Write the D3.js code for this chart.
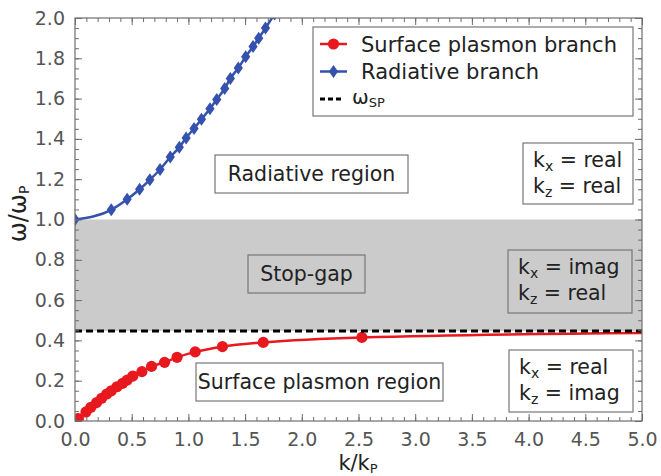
<!DOCTYPE html>
<html>
<head>
<meta charset="utf-8">
<script src="https://cdn.jsdelivr.net/npm/d3@7"></script>
<style>
  body { margin: 0; background: #fff; }
  text { font-family: "DejaVu Sans", sans-serif; }
</style>
</head>
<body>
<div id="chart"></div>
<script>
// surface plasmon branch (k/kP, w/wP)
var spK = [0.03, 0.097, 0.14, 0.19, 0.235, 0.28, 0.32, 0.37, 0.42, 0.46, 0.51, 0.59, 0.675, 0.79, 0.90, 1.06, 1.30, 1.66, 2.53, 5.6];
var spW = [0.012, 0.045, 0.068, 0.091, 0.113, 0.134, 0.150, 0.170, 0.187, 0.203, 0.223, 0.245, 0.271, 0.291, 0.316, 0.343, 0.369, 0.390, 0.415, 0.440];

// radiative branch
var radK = [0.0, 0.32, 0.46, 0.57, 0.66, 0.75, 0.84, 0.92, 0.98, 1.05, 1.115, 1.19, 1.25, 1.32, 1.37, 1.44, 1.505, 1.57, 1.62, 1.68, 1.76];
var radW = [1.0, 1.048, 1.10, 1.15, 1.197, 1.248, 1.31, 1.358, 1.405, 1.452, 1.497, 1.55, 1.596, 1.65, 1.70, 1.752, 1.808, 1.858, 1.90, 1.95, 2.02];

var wSP = 0.447;          // dashed line
var gapBand = [0.447, 1.0]; // stop-gap shading

var xTicks = [0, 0.5, 1, 1.5, 2, 2.5, 3, 3.5, 4, 4.5, 5];
var yTicks = [0, 0.2, 0.4, 0.6, 0.8, 1.0, 1.2, 1.4, 1.6, 1.8, 2.0];

var w = 661, h = 476;
var pL = 75, pR = 642, pT = 18, pB = 421;

var red = '#e8191e', blue = '#3451ae', frame = '#6e6e6e', tickTxt = '#555';

var svg = d3.select('#chart').append('svg')
  .attr('width', w).attr('height', h);

var x = d3.scaleLinear().domain([0, 5]).range([pL, pR]);
var y = d3.scaleLinear().domain([0, 2]).range([pB, pT]);

svg.append('clipPath').attr('id', 'plotclip')
  .append('rect').attr('x', pL).attr('y', pT)
  .attr('width', pR - pL).attr('height', pB - pT);

var plot = svg.append('g').attr('clip-path', 'url(#plotclip)');

// stop-gap band
plot.append('rect')
  .attr('x', x(0)).attr('width', x(5) - x(0))
  .attr('y', y(gapBand[1])).attr('height', y(gapBand[0]) - y(gapBand[1]))
  .attr('fill', '#cbcbcb');

// text boxes
function box(x0, y0, x1, y1) {
  svg.append('rect')
    .attr('x', x0).attr('y', y0).attr('width', x1 - x0).attr('height', y1 - y0)
    .attr('fill', 'none').attr('stroke', '#777').attr('stroke-width', 1.2);
}
function label(txt, cx, cy) {
  svg.append('text').attr('x', cx).attr('y', cy)
    .attr('text-anchor', 'middle').attr('font-size', 20.5).attr('fill', '#222')
    .text(txt);
}
box(215, 155, 408, 193); label('Radiative region', 311.5, 181);
box(248, 255, 365, 293); label('Stop-gap', 306.5, 281);
box(196, 363, 443, 401); label('Surface plasmon region', 319.5, 389);

function kbox(x0, y0, x1, y1, a, b) {
  box(x0, y0, x1, y1);
  [['x', a], ['z', b]].forEach(function(d, i) {
    var t = svg.append('text').attr('x', x0 + 10).attr('y', y0 + 24 + i * 25.5)
      .attr('font-size', 20.5).attr('fill', '#222');
    t.append('tspan').text('k');
    t.append('tspan').attr('font-size', 14).attr('dy', 4).text(d[0]);
    t.append('tspan').attr('dy', -4).text(' = ' + d[1]);
  });
}
kbox(523, 143, 633, 204, 'real', 'real');
kbox(508, 250, 632, 313, 'imag', 'real');
kbox(509, 350, 633, 412, 'real', 'imag');

// curves
var spData = spK.map(function(k, i) { return [k, spW[i]]; });
var radData = radK.map(function(k, i) { return [k, radW[i]]; });

var line = d3.line()
  .x(function(d) { return x(d[0]); })
  .y(function(d) { return y(d[1]); })
  .curve(d3.curveMonotoneX);

plot.append('path').datum([[0, 0]].concat(spData)).attr('d', line)
  .attr('fill', 'none').attr('stroke', red).attr('stroke-width', 2.5);
plot.selectAll('.sp-dot').data(spData).enter().append('circle')
  .attr('cx', function(d) { return x(d[0]); })
  .attr('cy', function(d) { return y(d[1]); })
  .attr('r', 5.6).attr('fill', red);

plot.append('path').datum(radData).attr('d', line)
  .attr('fill', 'none').attr('stroke', blue).attr('stroke-width', 2.5);
var diamond = 'M0,-6.5L4.6,0L0,6.5L-4.6,0Z';
plot.selectAll('.rad-dot').data(radData).enter().append('path')
  .attr('d', diamond)
  .attr('transform', function(d) { return 'translate(' + x(d[0]) + ',' + y(d[1]) + ')'; })
  .attr('fill', blue);

// w_sp dashed line
plot.append('line')
  .attr('x1', x(0)).attr('x2', x(5)).attr('y1', y(wSP)).attr('y2', y(wSP))
  .attr('stroke', '#000').attr('stroke-width', 3).attr('stroke-dasharray', '7,4');

// axes: ticks inward on all four sides
var xMinor = d3.range(0, 5.001, 0.1);
var yMinor = d3.range(0, 2.001, 0.05);

function styleAxis(g) {
  g.select('.domain').remove();
  g.selectAll('line').attr('stroke', frame).attr('stroke-width', 1);
  g.selectAll('text').attr('fill', tickTxt).attr('font-size', 19)
    .attr('font-family', '"DejaVu Sans", sans-serif');
}

svg.append('g').attr('transform', 'translate(0,' + pB + ')')
  .call(d3.axisBottom(x).tickValues(xTicks).tickSize(-7).tickPadding(12).tickFormat(d3.format('.1f')))
  .call(styleAxis);
svg.append('g').attr('transform', 'translate(0,' + pB + ')')
  .call(d3.axisBottom(x).tickValues(xMinor).tickSize(-4).tickFormat(''))
  .call(styleAxis);
svg.append('g').attr('transform', 'translate(0,' + pT + ')')
  .call(d3.axisTop(x).tickValues(xTicks).tickSize(-7).tickFormat(''))
  .call(styleAxis);
svg.append('g').attr('transform', 'translate(0,' + pT + ')')
  .call(d3.axisTop(x).tickValues(xMinor).tickSize(-4).tickFormat(''))
  .call(styleAxis);

svg.append('g').attr('transform', 'translate(' + pL + ',0)')
  .call(d3.axisLeft(y).tickValues(yTicks).tickSize(-7).tickPadding(10).tickFormat(d3.format('.1f')))
  .call(styleAxis);
svg.append('g').attr('transform', 'translate(' + pL + ',0)')
  .call(d3.axisLeft(y).tickValues(yMinor).tickSize(-4).tickFormat(''))
  .call(styleAxis);
svg.append('g').attr('transform', 'translate(' + pR + ',0)')
  .call(d3.axisRight(y).tickValues(yTicks).tickSize(-7).tickFormat(''))
  .call(styleAxis);
svg.append('g').attr('transform', 'translate(' + pR + ',0)')
  .call(d3.axisRight(y).tickValues(yMinor).tickSize(-4).tickFormat(''))
  .call(styleAxis);

// frame
svg.append('rect')
  .attr('x', pL).attr('y', pT).attr('width', pR - pL).attr('height', pB - pT)
  .attr('fill', 'none').attr('stroke', frame).attr('stroke-width', 1.2);

// axis labels
var xl = svg.append('text').attr('x', 358).attr('y', 470)
  .attr('text-anchor', 'middle').attr('font-size', 21).attr('fill', '#222');
xl.append('tspan').text('k/k');
xl.append('tspan').attr('font-size', 13).attr('dy', 3).text('P');

var yl = svg.append('text')
  .attr('transform', 'translate(26,214) rotate(-90)')
  .attr('text-anchor', 'middle').attr('font-size', 24).attr('fill', '#222');
yl.append('tspan').text('ω/ω');
yl.append('tspan').attr('font-size', 14).attr('dy', 3).text('P');

// legend
var lg = svg.append('g');
lg.append('rect').attr('x', 313).attr('y', 27).attr('width', 320).attr('height', 89)
  .attr('fill', '#fff').attr('stroke', '#777').attr('stroke-width', 1.2);

lg.append('line').attr('x1', 320).attr('x2', 347).attr('y1', 44).attr('y2', 44)
  .attr('stroke', red).attr('stroke-width', 2.5);
lg.append('circle').attr('cx', 333.5).attr('cy', 44).attr('r', 5.6).attr('fill', red);
lg.append('text').attr('x', 361).attr('y', 51.5).attr('font-size', 21).attr('fill', '#222')
  .text('Surface plasmon branch');

lg.append('line').attr('x1', 320).attr('x2', 347).attr('y1', 71.5).attr('y2', 71.5)
  .attr('stroke', blue).attr('stroke-width', 2.5);
lg.append('path').attr('d', diamond).attr('transform', 'translate(333.5,71.5)').attr('fill', blue);
lg.append('text').attr('x', 361).attr('y', 79).attr('font-size', 21).attr('fill', '#222')
  .text('Radiative branch');

lg.append('line').attr('x1', 320).attr('x2', 342).attr('y1', 99).attr('y2', 99)
  .attr('stroke', '#000').attr('stroke-width', 3).attr('stroke-dasharray', '5,3');
var lt = lg.append('text').attr('x', 352).attr('y', 104).attr('font-size', 20).attr('fill', '#222');
lt.append('tspan').text('ω');
lt.append('tspan').attr('font-size', 13).attr('dy', 3).text('SP');
</script>
</body>
</html>
